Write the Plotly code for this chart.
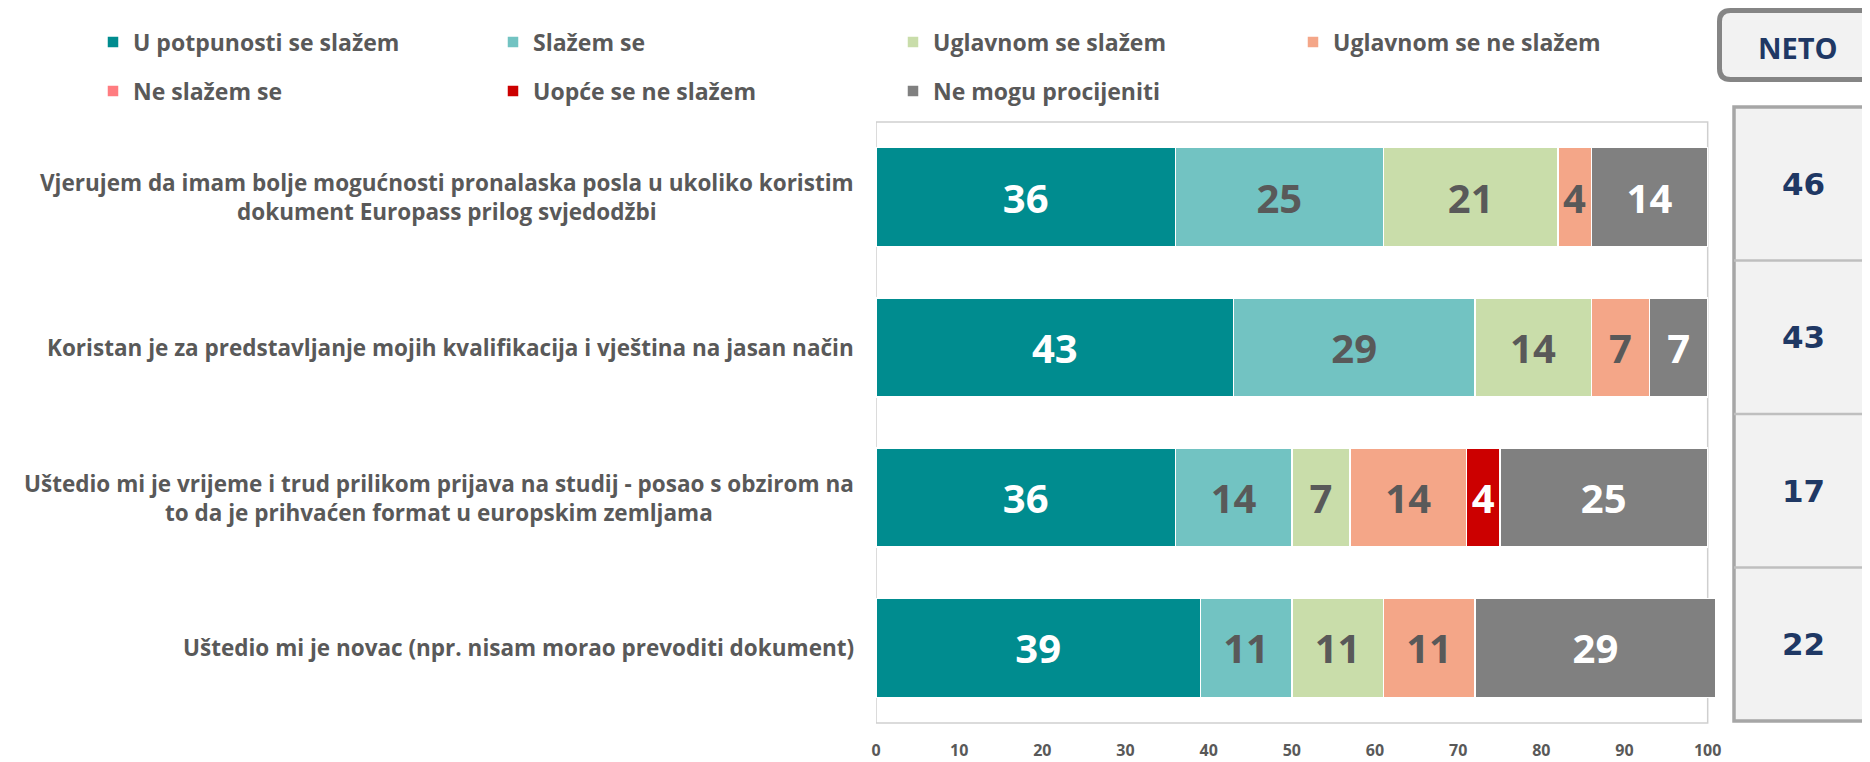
import plotly.graph_objects as go

# ---------------- data ----------------
categories = [
    "Vjerujem da imam bolje mogućnosti pronalaska posla u ukoliko koristim<br>dokument Europass prilog svjedodžbi",
    "Koristan je za predstavljanje mojih kvalifikacija i vještina na jasan način",
    "Uštedio mi je vrijeme i trud prilikom prijava na studij - posao s obzirom na<br>to da je prihvaćen format u europskim zemljama",
    "Uštedio mi je novac (npr. nisam morao prevoditi dokument)",
]
series_names = [
    "U potpunosti se slažem",
    "Slažem se",
    "Uglavnom se slažem",
    "Uglavnom se ne slažem",
    "Ne slažem se",
    "Uopće se ne slažem",
    "Ne mogu procijeniti",
]
u_potpunosti = [36, 43, 36, 39]
slazem_se = [25, 29, 14, 11]
uglavnom_slazem = [21, 14, 7, 11]
uglavnom_ne_slazem = [4, 7, 14, 11]
ne_slazem_se = [0, 0, 0, 0]
uopce_ne_slazem = [0, 0, 4, 0]
ne_mogu = [14, 7, 25, 29]
neto = [46, 43, 17, 22]
neto_title = "NETO"
x_ticks = [0, 10, 20, 30, 40, 50, 60, 70, 80, 90, 100]

series_values = [u_potpunosti, slazem_se, uglavnom_slazem, uglavnom_ne_slazem,
                 ne_slazem_se, uopce_ne_slazem, ne_mogu]
colors = ["#008C8F", "#72C3C2", "#C9DDAA", "#F4A688", "#FF7C80", "#CC0000", "#808080"]
text_colors = ["#FFFFFF", "#595959", "#595959", "#595959", "#595959", "#FFFFFF", "#FFFFFF"]
legend_ids = ["legend", "legend", "legend", "legend", "legend2", "legend2", "legend2"]

FONT = "Open Sans, sans-serif"
GREY = "#595959"
NAVY = "#1F3864"

# page body has an 8px margin; work in reference pixel coords and convert
OFF = 8
W, H = 1870 - OFF, 762 - OFF
PLOT_L, PLOT_R, PLOT_T, PLOT_B = 876, 1716, 122, 723   # reference pixels
ML = PLOT_L - OFF
MR = 1870 - PLOT_R
MT = PLOT_T - OFF
MB = 762 - PLOT_B
PW = W - ML - MR
PH = H - MT - MB


def px_x(px):
    return (px - PLOT_L) / PW


def px_y(py):
    return (PLOT_B - py) / PH


fig = go.Figure()
for name, vals, col, tcol, lg in zip(series_names, series_values, colors, text_colors, legend_ids):
    fig.add_trace(go.Bar(
        name=name,
        y=categories,
        x=vals,
        orientation="h",
        marker=dict(color=col, line=dict(color="#FFFFFF", width=1.5)),
        text=[str(v) if v > 0 else "" for v in vals],
        textposition="inside",
        insidetextanchor="middle",
        textangle=0,
        constraintext="none",
        textfont=dict(family=FONT, size=40, color=tcol, weight="bold"),
        legend=lg,
        hoverinfo="skip",
    ))

annotations = []
for cat in categories:
    annotations.append(dict(
        x=0, xref="x", y=cat, yref="y", xanchor="right", yanchor="middle",
        xshift=-20, align="center", showarrow=False, text=cat,
        font=dict(family=FONT, size=22.5, color=GREY, weight="bold"),
    ))

# NETO panel
panel_top, panel_bot = 107, 721
cell_h = (panel_bot - panel_top) / len(neto)
shapes = []
shapes.append(dict(type="rect", xref="x", yref="paper", x0=0, x1=100, y0=0, y1=1,
                   line=dict(color="#CFCFCF", width=1.5), fillcolor="rgba(0,0,0,0)", layer="below"))
shapes.append(dict(type="rect", xref="paper", yref="paper",
                   x0=px_x(1734), x1=px_x(1900), y0=px_y(panel_bot), y1=px_y(panel_top),
                   line=dict(color="#A6A6A6", width=3.5), fillcolor="#F2F2F2", layer="below"))
for i in range(1, len(neto)):
    yy = panel_top + i * cell_h
    shapes.append(dict(type="line", xref="paper", yref="paper",
                       x0=px_x(1734), x1=px_x(1900), y0=px_y(yy), y1=px_y(yy),
                       line=dict(color="#BFBFBF", width=2.5)))
for i, v in enumerate(neto):
    yc = panel_top + (i + 0.5) * cell_h
    annotations.append(dict(
        x=px_x(1803), y=px_y(yc), xref="paper", yref="paper", showarrow=False,
        xanchor="center", yanchor="middle", text=str(v),
        font=dict(family="DejaVu Sans", size=31, color=NAVY, weight="bold"),
    ))

# rounded header box
hx0, hx1, hy0, hy1 = 1719.5, 1900, 10.5, 79.5
r = 11
rx, ry = r / PW, r / PH
X0, X1 = px_x(hx0), px_x(hx1)
Yt, Yb = px_y(hy0), px_y(hy1)
path = (f"M {X0+rx},{Yt} L {X1},{Yt} L {X1},{Yb} L {X0+rx},{Yb} "
        f"Q {X0},{Yb} {X0},{Yb+ry} L {X0},{Yt-ry} Q {X0},{Yt} {X0+rx},{Yt} Z")
shapes.append(dict(type="path", xref="paper", yref="paper", path=path,
                   line=dict(color="#858585", width=5), fillcolor="#F2F2F2"))
annotations.append(dict(
    x=px_x(1798), y=px_y(47), xref="paper", yref="paper", showarrow=False,
    xanchor="center", yanchor="middle", text=neto_title,
    font=dict(family=FONT, size=29, color=NAVY, weight="bold"),
))

legend_common = dict(
    orientation="h", xref="paper", yref="paper", xanchor="left", yanchor="middle",
    font=dict(family=FONT, size=23, color=GREY, weight="bold"),
    entrywidth=355, entrywidthmode="pixels", bgcolor="rgba(0,0,0,0)",
    traceorder="normal", itemclick=False, itemdoubleclick=False,
)

fig.update_layout(
    width=W, height=H,
    margin=dict(l=ML, r=MR, t=MT, b=MB, autoexpand=False),
    paper_bgcolor="#FFFFFF", plot_bgcolor="#FFFFFF",
    barmode="stack", bargap=0.34,
    showlegend=True,
    legend=dict(x=px_x(93), y=px_y(42), **legend_common),
    legend2=dict(x=px_x(93), y=px_y(91), **legend_common),
    xaxis=dict(range=[0, 101], tickvals=x_ticks, ticktext=[str(t) for t in x_ticks],
               showgrid=False, zeroline=False, showline=False, ticks="",
               ticklabelstandoff=16,
               tickfont=dict(family=FONT, size=16, color=GREY, weight="bold")),
    yaxis=dict(categoryorder="array", categoryarray=categories, autorange="reversed",
               showticklabels=False, showgrid=False, zeroline=False, showline=False, ticks=""),
    shapes=shapes,
    annotations=annotations,
)

fig.write_html("out.html")
